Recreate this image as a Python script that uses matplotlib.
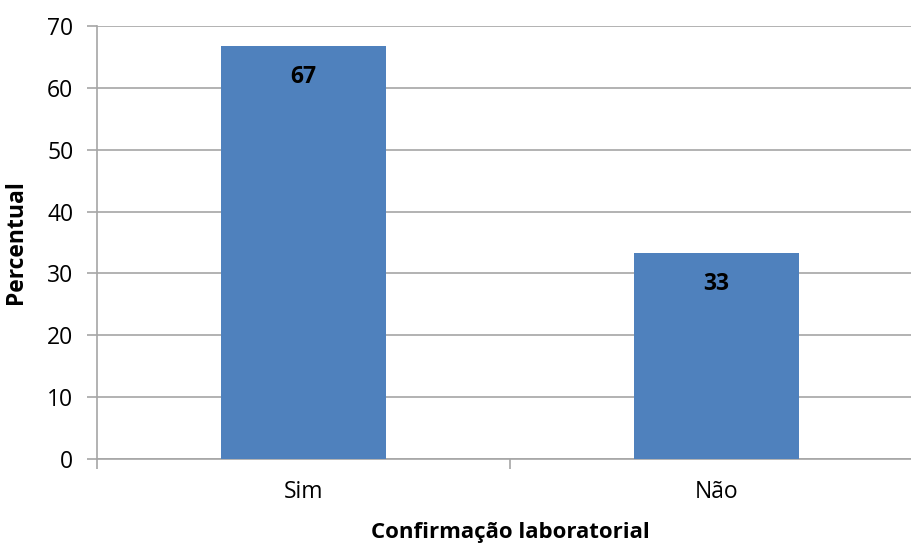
import matplotlib.pyplot as plt

# Dados do grafico
categorias = ['Sim', 'Não']
percentual = [66.7, 33.3]
rotulos = ['67', '33']

plt.rcParams['font.family'] = ['Open Sans', 'DejaVu Sans']

fig = plt.figure(figsize=(9.12, 5.44), dpi=100)
# eixo um pouco mais largo que a figura, como no original
ax = fig.add_axes([97 / 912, 85 / 544, 826 / 912, 433 / 544])

x = list(range(len(categorias)))
bars = ax.bar(x, percentual, width=0.4, color='#4F81BD', zorder=3)

for b, txt in zip(bars, rotulos):
    ax.annotate(txt, (b.get_x() + b.get_width() / 2, b.get_height()),
                xytext=(0, -22), textcoords='offset points',
                ha='center', va='center', fontsize=16.5, fontweight='bold', color='black')

ax.set_xlim(-0.5, 1.5)
ax.set_ylim(0, 70)
ax.set_yticks(range(0, 71, 10))
ax.set_xticks(x)
ax.set_xticklabels(categorias)
ax.set_xticks([-0.5, 0.5, 1.5], minor=True)

ax.grid(axis='y', color='#A6A6A6', linewidth=1.2, zorder=0)
ax.tick_params(axis='y', length=7, width=1.2, color='#A6A6A6', labelsize=16.5, pad=10)
ax.tick_params(axis='x', which='major', length=0, labelsize=16.5, pad=15)
ax.tick_params(axis='x', which='minor', length=7, width=1.2, color='#A6A6A6')

for s in ['top', 'right']:
    ax.spines[s].set_visible(False)
for s in ['left', 'bottom']:
    ax.spines[s].set_color('#A6A6A6')
    ax.spines[s].set_linewidth(1.2)

ax.set_ylabel('Percentual', fontsize=16.5, fontweight='bold')
ax.yaxis.set_label_coords(-0.083, 0.5)
ax.set_xlabel('Confirmação laboratorial', fontsize=16, fontweight='bold')
ax.xaxis.set_label_coords(0.5, -0.146)

fig.savefig('out.png', dpi=100)
